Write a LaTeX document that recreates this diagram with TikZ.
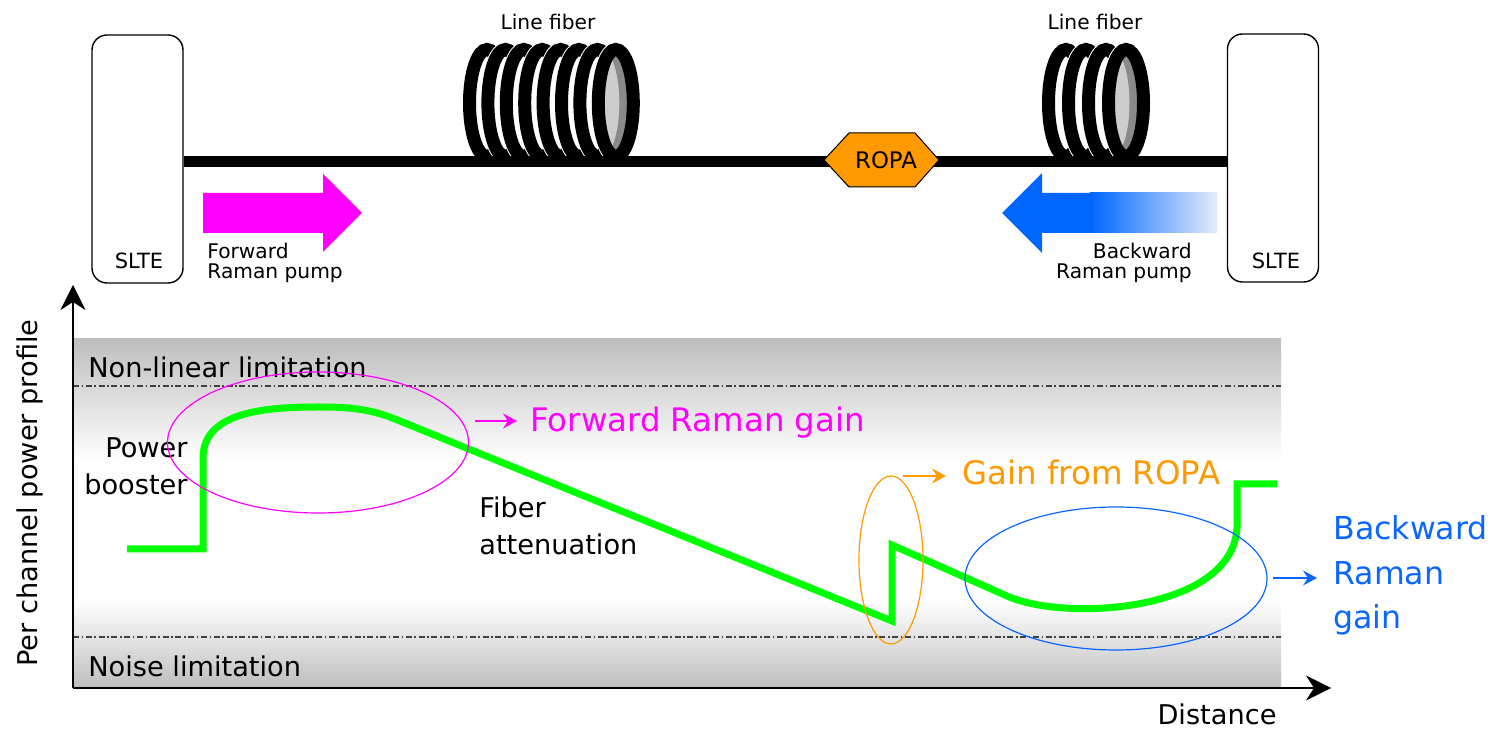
\documentclass[tikz,border=0pt]{standalone}
\usepackage{fontspec}
\setmainfont{DejaVu Sans}
\usetikzlibrary{arrows.meta}

\definecolor{gainGreen}{HTML}{00FF00}
\definecolor{gainMagenta}{HTML}{FF00FF}
\definecolor{ropaOrange}{HTML}{FF9900}
\definecolor{gainBlue}{HTML}{0A66FF}
\definecolor{pumpBlue}{HTML}{0066FF}
\definecolor{pumpFade}{HTML}{E4ECFA}
\definecolor{bandGray}{HTML}{BEBEBE}
\definecolor{limitGray}{HTML}{404040}
\definecolor{coilLight}{HTML}{CDCDCD}
\definecolor{coilDark}{HTML}{8A8A8A}

% the shaded path is fitted to the 25bp--75bp part of the shading
\pgfdeclareverticalshading{bandshade}{100bp}{color(0bp)=(bandGray); color(25bp)=(bandGray); color(37.5bp)=(white); color(57.5bp)=(white); color(75bp)=(bandGray); color(100bp)=(bandGray)}

\begin{document}
\begin{tikzpicture}[x=0.5pt,y=-0.5pt,
  small/.style={font=\fontsize{10.1}{12}\selectfont, inner sep=0pt},
  medium/.style={font=\fontsize{13.6}{16}\selectfont, inner sep=0pt},
  large/.style={font=\fontsize{16.2}{19}\selectfont, inner sep=0pt},
  sltebox/.style={draw=black, line width=0.7pt, rounded corners=7.5pt,
    minimum width=45.5pt, minimum height=124pt, inner sep=0pt, fill=white},
  fiberline/.style={line width=5.5pt},
  ringhalo/.style={draw=white, fill=white, line width=7.5pt},
  ringline/.style={draw=black, line width=6.5pt},
  ringsize/.style={x radius=8.75pt, y radius=26.75pt},
  limitline/.style={draw=limitGray, line width=0.6pt,
    dash pattern=on 3pt off 1.3pt on 0.8pt off 1.3pt},
  axisline/.style={line width=1pt, -{Stealth[length=12.5pt, width=12.5pt, inset=4pt]}},
  profile/.style={draw=gainGreen, line width=3.5pt, miter limit=2},
  pointer/.style={line width=1.35pt, -{Stealth[length=7pt, width=7.5pt, inset=2.5pt]}},
  zone/.style={line width=0.6pt},
]
\useasboundingbox (0,0) rectangle (1506,731);

% ---------- link: terminals ----------
\node[sltebox] (sltel) at (137.5,159) {};
\node[sltebox] (slter) at (1273,158) {};
\node[small, font=\fontsize{10.5}{12}\selectfont, anchor=base] (sltelabell) at (139,269) {SLTE};
\node[small, font=\fontsize{10.5}{12}\selectfont, anchor=base] (sltelabelr) at (1276,269) {SLTE};

% ---------- fiber spools ----------
\foreach \i in {0,...,6} {
  \path[ringhalo] (487+18.4*\i,103) ellipse [ringsize];
  \draw[ringline] (487+18.4*\i,103) ellipse [ringsize];
}
\path[ringhalo] (615.8,103) ellipse [ringsize];
\begin{scope}
  \clip (615.8,103) ellipse [ringsize];
  \fill[coilDark] (615.8,103) ellipse [ringsize];
  \fill[coilLight] (601.8,103) ellipse [ringsize];
\end{scope}
\draw[ringline] (615.8,103) ellipse [ringsize];

\foreach \i in {0,...,2} {
  \path[ringhalo] (1066+20*\i,103) ellipse [ringsize];
  \draw[ringline] (1066+20*\i,103) ellipse [ringsize];
}
\path[ringhalo] (1126,103) ellipse [ringsize];
\begin{scope}
  \clip (1126,103) ellipse [ringsize];
  \fill[coilDark] (1126,103) ellipse [ringsize];
  \fill[coilLight] (1112,103) ellipse [ringsize];
\end{scope}
\draw[ringline] (1126,103) ellipse [ringsize];

\node[small, anchor=base] (spoolA) at (548,30) {Line fiber};
\node[small, anchor=base] (spoolB) at (1095,30) {Line fiber};

% ---------- fiber span ----------
\coordinate (fiberY) at (0,162);
\draw[fiberline] (sltel.east |- fiberY) -- (slter.west |- fiberY);

% ---------- ROPA ----------
\path[fill=ropaOrange, draw=black, line width=0.5pt]
  (824,160) -- (849,133) -- (915,133) -- (939,160) -- (915,187) -- (849,187) -- cycle;
\node[small, font=\fontsize{11.4}{13}\selectfont, anchor=base] (ropa) at (886,169) {ROPA};

% ---------- Raman pumps ----------
\fill[gainMagenta] (203,193) -- (323,193) -- (323,174) -- (362,213)
  -- (323,252) -- (323,233) -- (203,233) -- cycle;
\node[small, anchor=base west] (fwdA) at (207,259) {Forward};
\node[small, anchor=base west] (fwdB) at (207,279) {Raman pump};

\fill[pumpBlue] (1092,193) -- (1042,193) -- (1042,173) -- (1002,213)
  -- (1042,253) -- (1042,233) -- (1092,233) -- cycle;
\shade[left color=pumpBlue, right color=pumpFade] (1090,193) rectangle (1217,233);
\node[small, anchor=base east] (bwdA) at (1192,259) {Backward};
\node[small, anchor=base east] (bwdB) at (1192,279) {Raman pump};

% ---------- power profile chart ----------
\shade[shading=bandshade] (73,339) rectangle (1281,688);
\draw[limitline] (73,386) -- (1281,386);
\draw[limitline] (73,637) -- (1281,637);

\coordinate (origin) at (73,688);
\coordinate (ytip) at (73,285);
\coordinate (xtip) at (1331,688);
\draw[axisline] (origin) -- (ytip);
\draw[axisline] (origin) -- (xtip);

\node[medium, anchor=base west] (nonlin) at (88,378) {Non-linear limitation};
\node[medium, anchor=base west] (noise) at (88,677) {Noise limitation};
\node[medium, anchor=base east] (boostA) at (188,458) {Power};
\node[medium, anchor=base east] (boostB) at (188,495) {booster};
\node[medium, anchor=base west] (attA) at (479,518) {Fiber};
\node[medium, anchor=base west] (attB) at (479,555) {attenuation};
\node[medium, rotate=90, anchor=base] (ylabel) at (37,493) {Per channel power profile};
\node[medium, anchor=base] (xlabel) at (1217,725) {Distance};

% signal power along the link
\draw[profile] (127,549) -- (203,549) -- (203,458)
  .. controls (203,412) and (265,407) .. (318,407)
  .. controls (345,407) and (368,408) .. (395,419)
  -- (892,621) -- (892,545) -- (1007,596)
  .. controls (1065,622) and (1232,612) .. (1237,528)
  -- (1237,484) -- (1277,484);

% gain regions
\draw[zone, gainMagenta] (318,442.5) ellipse [x radius=75.25pt, y radius=35.25pt];
\draw[zone, ropaOrange] (891,560) ellipse [x radius=16pt, y radius=42pt];
\draw[zone, gainBlue] (1116,578.5) ellipse [x radius=75.5pt, y radius=35.75pt];

\node[large, text=gainMagenta, anchor=base west] (fwdgain) at (530,432) {Forward Raman gain};
\coordinate (fwdptr) at (475,421);
\draw[pointer, gainMagenta, shorten >=6.5pt] (fwdptr) -- (fwdptr -| fwdgain.west);

\node[large, text=ropaOrange, anchor=base west] (ropagain) at (962,485) {Gain from ROPA};
\coordinate (ropaptr) at (903,476);
\draw[pointer, ropaOrange, shorten >=8pt] (ropaptr) -- (ropaptr -| ropagain.west);

\node[large, font=\fontsize{15.8}{19}\selectfont, text=gainBlue, anchor=base west] (bwdgainA) at (1333,540) {Backward};
\node[large, font=\fontsize{15.8}{19}\selectfont, text=gainBlue, anchor=base west] (bwdgainB) at (1333,585) {Raman};
\node[large, font=\fontsize{15.8}{19}\selectfont, text=gainBlue, anchor=base west] (bwdgainC) at (1333,629) {gain};
\coordinate (bwdptr) at (1273,578);
\draw[pointer, gainBlue, shorten >=8pt] (bwdptr) -- (bwdptr -| bwdgainB.west);
\end{tikzpicture}
\end{document}
